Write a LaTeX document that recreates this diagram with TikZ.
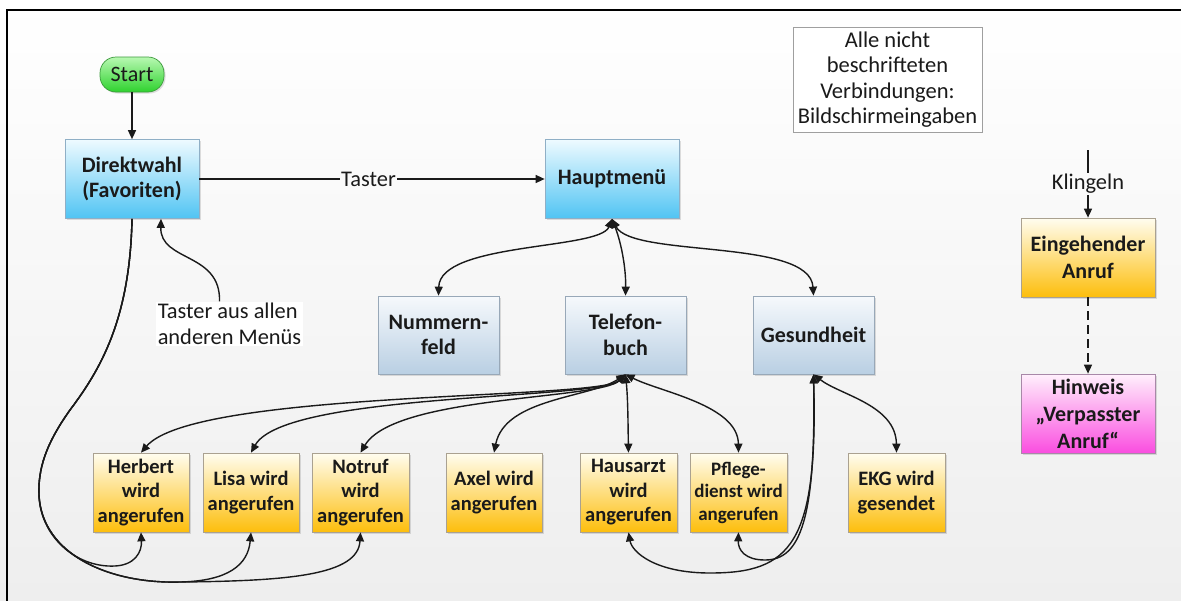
\documentclass[tikz,border=0pt]{standalone}
\usepackage{fontspec}
\setmainfont{Carlito}
\usetikzlibrary{arrows.meta,shadows,calc}
\definecolor{bgbot}{HTML}{EEEEEE}
\definecolor{bgmid}{HTML}{FAFAFA}
\definecolor{startTop}{HTML}{B8F8B2}
\definecolor{startBot}{HTML}{2ED22E}
\definecolor{startBorder}{HTML}{3C9A3C}
\definecolor{blueTop}{HTML}{EEFAFF}
\definecolor{blueBot}{HTML}{50C4F3}
\definecolor{blueBorder}{HTML}{8FAFC6}
\definecolor{greyTop}{HTML}{F6F9FC}
\definecolor{greyBot}{HTML}{B9CFE3}
\definecolor{greyBorder}{HTML}{98A8B8}
\definecolor{goldTop}{HTML}{FFFDF0}
\definecolor{goldBot}{HTML}{FDBE0C}
\definecolor{goldBorder}{HTML}{AAA190}
\definecolor{pinkTop}{HTML}{FFF0FC}
\definecolor{pinkBot}{HTML}{FA4EE0}
\definecolor{pinkBorder}{HTML}{A888A8}
\definecolor{ink}{HTML}{1A1A1A}
\tikzset{
  base/.style={rectangle, line width=0.7pt, align=center, text=ink, inner sep=1pt,
    drop shadow={shadow xshift=1.5pt, shadow yshift=-1.5pt, opacity=0.25}},
  bigtext/.style={font=\bfseries\fontsize{22}{25.5}\selectfont},
  smalltext/.style={font=\bfseries\fontsize{20.5}{24.5}\selectfont},
  bluebox/.style={base, bigtext, draw=blueBorder, top color=blueTop, bottom color=blueBot,
    minimum width=134pt, minimum height=79pt},
  greybox/.style={base, bigtext, draw=greyBorder, top color=greyTop, bottom color=greyBot,
    minimum width=121pt, minimum height=78pt},
  goldbox/.style={base, smalltext, draw=goldBorder, top color=goldTop, bottom color=goldBot,
    minimum width=96pt, minimum height=79pt},
  callbox/.style={base, font=\bfseries\fontsize{22}{27}\selectfont, draw=goldBorder,
    top color=goldTop, bottom color=goldBot, minimum width=134pt, minimum height=79pt},
  pinkbox/.style={base, font=\bfseries\fontsize{22}{27}\selectfont, draw=pinkBorder,
    top color=pinkTop, bottom color=pinkBot, minimum width=134pt, minimum height=79pt},
  startbox/.style={base, bigtext, font=\fontsize{22}{25}\selectfont, draw=startBorder,
    top color=startTop, bottom color=startBot, rounded corners=16pt,
    minimum width=64pt, minimum height=35pt},
  lbl/.style={font=\fontsize{22.4}{25.5}\selectfont, text=ink, inner sep=1pt, fill=bgmid},
  conn/.style={draw=ink, line width=1.4pt, -{Triangle[length=9pt,width=8pt]}},
  bidi/.style={draw=ink, line width=1.4pt,
    {Triangle[length=9pt,width=8pt]}-{Triangle[length=9pt,width=8pt]}},
  plain/.style={draw=ink, line width=1.4pt}
}
\begin{document}
\begin{tikzpicture}[x=1pt,y=-1pt]
\useasboundingbox (0,0) rectangle (1181,600);
\clip (0,0) rectangle (1181,600);
\shade[top color=white, bottom color=bgbot] (0,0) rectangle (1181,600);
\draw[line width=1.3pt, black] (7,10) rectangle (1200,620);

% nodes
\node[startbox] (start) at (132,74.5) {Start};
\node[bluebox] (direkt) at (132,179) {Direktwahl\\(Favoriten)};
\node[bluebox] (haupt) at (612,179) {Hauptmenü};
\node[greybox] (nummern) at (438.5,335) {Nummern-\\feld};
\node[greybox] (telefon) at (625.5,335) {Telefon-\\buch};
\node[greybox] (gesund) at (813.5,335) {Gesundheit};
\node[goldbox] (herbert) at (141,492.5) {Herbert\\wird\\angerufen};
\node[goldbox] (lisa) at (251,492.5) {Lisa wird\\angerufen};
\node[goldbox, minimum width=97pt] (notruf) at (360.5,492.5) {Notruf\\wird\\angerufen};
\node[goldbox] (axel) at (494,492.5) {Axel wird\\angerufen};
\node[goldbox, minimum width=97pt] (hausarzt) at (628.5,492.5) {Hausarzt\\wird\\angerufen};
\node[goldbox, minimum width=97pt, font=\bfseries\fontsize{19}{22.5}\selectfont] (pflege) at (738.5,492.5) {Pflege-\\dienst wird\\angerufen};
\node[goldbox, minimum width=97pt] (ekg) at (896.5,492.5) {EKG wird\\gesendet};
\node[callbox] (eingehend) at (1088,257.5) {Eingehender\\Anruf};
\node[pinkbox] (hinweis) at (1088,413.5) {Hinweis\\„Verpasster\\Anruf“};
\node[rectangle, draw=gray!75, line width=0.8pt, fill=white, align=center, text=ink,
  font=\fontsize{22.5}{25.3}\selectfont, minimum width=189pt, minimum height=105pt,
  drop shadow={shadow xshift=1.2pt, shadow yshift=-1.2pt, opacity=0.2}]
  (legend) at (887.5,79.5) {Alle nicht\\beschrifteten\\Verbindungen:\\Bildschirmeingaben};
\node[fill=white, align=left, text=ink, inner sep=1.5pt, font=\fontsize{22.4}{26}\selectfont]
  (note) at (229.5,324) {Taster aus allen\\anderen Menüs};
\coordinate (klstart) at (1088,150);

% connectors
\draw[conn] (start) -- (direkt);
\draw[conn] (direkt.east) -- node[lbl, pos=0.49] {Taster} (haupt.west);
\draw[conn] ([xshift=-10pt]note.north) .. controls (221,252) and (160,262) .. ([xshift=29pt]direkt.south);

\draw[bidi] (haupt.south) .. controls (600,250) and (440,242) .. (nummern.north);
\draw[bidi] (haupt.south) .. controls (622,245) and (626,270) .. (telefon.north);
\draw[bidi] (haupt.south) .. controls (632,258) and (810,238) .. (gesund.north);

\draw[bidi] (telefon.south) .. controls (600,400) and (195,390) .. (herbert.north);
\draw[bidi] (telefon.south) .. controls (600,400) and (285,392) .. (lisa.north);
\draw[bidi] (telefon.south) .. controls (600,400) and (395,395) .. (notruf.north);
\draw[bidi] (telefon.south) .. controls (590,398) and (505,398) .. (axel.north);
\draw[bidi] (telefon.south) .. controls (628,400) and (628,425) .. (hausarzt.north);
\draw[bidi] (telefon.south) .. controls (660,392) and (738,405) .. (pflege.north);

\draw[bidi] (gesund.south) .. controls (840,395) and (896,405) .. (ekg.north);
\draw[bidi] (gesund.south) .. controls (816,520) and (800,560) .. (765,560)
  .. controls (745,560) and (738,550) .. (pflege.south);
\draw[bidi] (gesund.south) .. controls (818,545) and (790,573) .. (710,573)
  .. controls (655,573) and (632,552) .. (hausarzt.south);

\draw[conn] (direkt.south) .. controls (130,320) and (100,370) .. (70,410)
  .. controls (45,445) and (38,470) .. (39,495)
  .. controls (40,535) and (75,568) .. (115,566)
  .. controls (135,565) and (142,552) .. (herbert.south);
\draw[conn] (direkt.south) .. controls (130,320) and (100,370) .. (70,410)
  .. controls (45,445) and (38,470) .. (39,495)
  .. controls (42,555) and (110,584) .. (180,582)
  .. controls (228,581) and (248,565) .. (lisa.south);
\draw[conn] (direkt.south) .. controls (130,320) and (100,370) .. (70,410)
  .. controls (45,445) and (38,470) .. (39,495)
  .. controls (42,555) and (110,584) .. (180,582)
  .. controls (290,581) and (358,575) .. (notruf.south);

\draw[conn] (klstart) -- node[lbl] {Klingeln} (eingehend.north);
\draw[conn, dash pattern=on 9pt off 5pt] (eingehend) -- (hinweis);
\end{tikzpicture}
\end{document}
